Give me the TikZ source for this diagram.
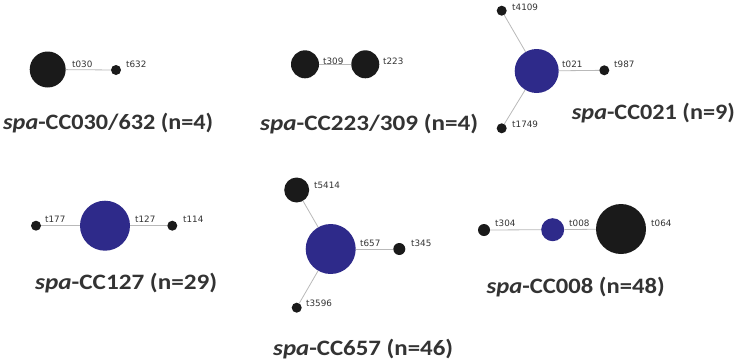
\documentclass[tikz,border=0pt]{standalone}
\usepackage{graphicx}
\usepackage{fontspec}
\setmainfont{Carlito}
\newfontfamily\lblfont{DejaVu Sans}
\definecolor{cblue}{HTML}{2E2A8A}
\definecolor{cdark}{HTML}{1A1A1A}
\definecolor{ctext}{HTML}{333333}
\newcommand\ttltext[2]{\resizebox{#1}{\height}{#2}}
\tikzset{
  bn/.style={circle,fill=cdark,inner sep=0pt,minimum size=#1},
  un/.style={circle,fill=cblue,inner sep=0pt,minimum size=#1},
  lk/.style={draw=gray!55,line width=0.8pt},
  lbl/.style={anchor=west,inner sep=0pt,text=ctext,font=\lblfont\fontsize{8.8}{9}\selectfont},
  ttl/.style={anchor=west,inner sep=0pt,text=ctext,font=\fontsize{22}{24}\selectfont\bfseries}
}
\begin{document}
\begin{tikzpicture}[x=1pt,y=-1pt]
\useasboundingbox (0,0) rectangle (737,362);
% group 1
\node[bn=36pt] (a1) at (47.7,69.5) {};
\node[bn=10pt] (a2) at (116,70) {};
\draw[lk] (a1) -- (a2);
\node[lbl] (la1) at (72,64) {t030};
\node[lbl] (la2) at (126,64) {t632};
\node[ttl] (ta) at (3,123) {\ttltext{210pt}{\textit{spa}-CC030/632 (n=4)}};
% group 2
\node[bn=28pt] (b1) at (305,64.3) {};
\node[bn=28pt] (b2) at (365.3,64.3) {};
\draw[lk] (b1) -- (b2);
\node[lbl] (lb1) at (323,61) {t309};
\node[lbl] (lb2) at (383,61) {t223};
\node[ttl] (tb) at (260,124) {\ttltext{218pt}{\textit{spa}-CC223/309 (n=4)}};
% group 3
\node[un=44pt] (c0) at (536.7,71) {};
\node[bn=10pt] (c1) at (501.7,10.7) {};
\node[bn=10pt] (c2) at (604.3,70.3) {};
\node[bn=10pt] (c3) at (501.7,128.3) {};
\draw[lk] (c0) -- (c1);
\draw[lk] (c0) -- (c2);
\draw[lk] (c0) -- (c3);
\node[lbl] (lc1) at (512,7) {t4109};
\node[lbl] (lc0) at (562,64) {t021};
\node[lbl] (lc2) at (614,64) {t987};
\node[lbl] (lc3) at (512,124) {t1749};
\node[ttl] (tc) at (571.7,113) {\ttltext{163pt}{\textit{spa}-CC021 (n=9)}};
% group 4
\node[un=50pt] (d0) at (105,225.7) {};
\node[bn=10pt] (d1) at (36,225.7) {};
\node[bn=10pt] (d2) at (172.3,225.7) {};
\draw[lk] (d0) -- (d1);
\draw[lk] (d0) -- (d2);
\node[lbl] (ld1) at (45,219) {t177};
\node[lbl] (ld0) at (135,219) {t127};
\node[lbl] (ld2) at (183,219) {t114};
\node[ttl] (td) at (35,283) {\ttltext{182pt}{\textit{spa}-CC127 (n=29)}};
% group 5
\node[un=50pt] (e0) at (330.7,249) {};
\node[bn=25pt] (e1) at (296.7,190) {};
\node[bn=12pt] (e2) at (399.3,249) {};
\node[bn=10pt] (e3) at (296.7,307.7) {};
\draw[lk] (e0) -- (e1);
\draw[lk] (e0) -- (e2);
\draw[lk] (e0) -- (e3);
\node[lbl] (le1) at (314,185) {t5414};
\node[lbl] (le0) at (360,243) {t657};
\node[lbl] (le2) at (411,243) {t345};
\node[lbl] (le3) at (306,303) {t3596};
\node[ttl] (te) at (273,349) {\ttltext{180pt}{\textit{spa}-CC657 (n=46)}};
% group 6
\node[bn=12pt] (f1) at (484,230) {};
\node[un=23pt] (f0) at (552.7,229.7) {};
\node[bn=50pt] (f2) at (621,229) {};
\draw[lk] (f1) -- (f0);
\draw[lk] (f0) -- (f2);
\node[lbl] (lf1) at (495,223) {t304};
\node[lbl] (lf0) at (569,223) {t008};
\node[lbl] (lf2) at (651,223) {t064};
\node[ttl] (tf) at (486.5,287) {\ttltext{178pt}{\textit{spa}-CC008 (n=48)}};
\end{tikzpicture}
\end{document}
